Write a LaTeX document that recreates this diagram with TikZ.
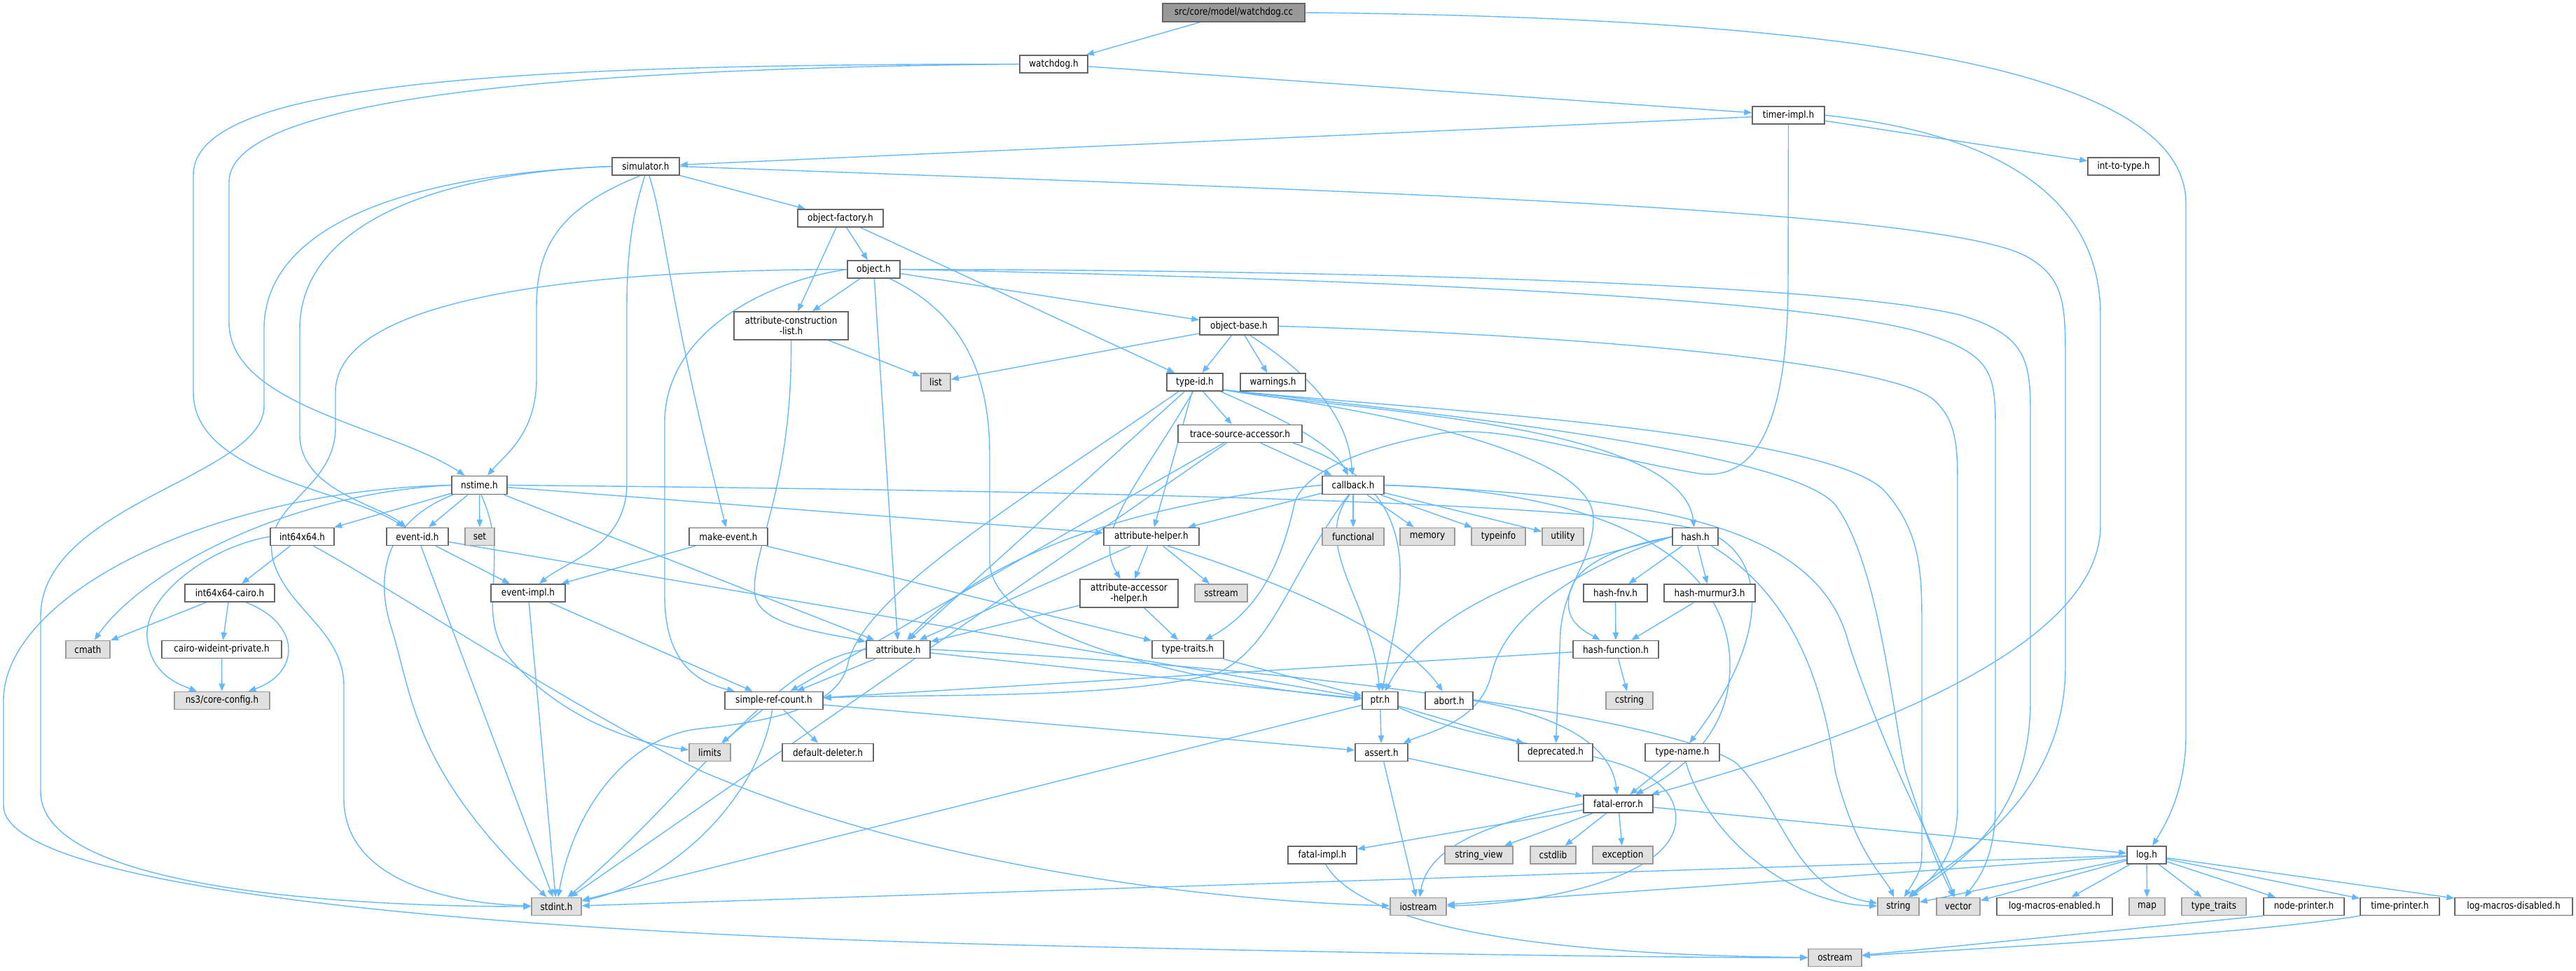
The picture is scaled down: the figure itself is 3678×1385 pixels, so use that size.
\documentclass[tikz,border=0pt]{standalone}
\usepackage{fontspec}
\setmainfont{DejaVu Sans}[FakeStretch=0.86]
\usetikzlibrary{arrows.meta}
\definecolor{edgec}{HTML}{63B8FF}
\definecolor{ndb}{HTML}{666666}
\definecolor{grb}{HTML}{999999}
\definecolor{grf}{HTML}{E0E0E0}
\definecolor{rootf}{HTML}{999999}
\newcommand\lbl{\fontsize{14}{15.5}\selectfont}
\pgfdeclarelayer{bg}
\pgfsetlayers{bg,main}
\tikzset{
  nd/.style={draw=ndb, fill=white, line width=1.6pt, inner sep=0pt, font=\lbl, minimum height=25pt, align=center},
  gr/.style={nd, draw=grb, fill=grf},
  e/.style={draw=edgec, line width=1.4pt, -{Triangle[length=11pt,width=8.5pt]}}
}
\begin{document}
\begin{tikzpicture}[x=1pt,y=-1pt]
\useasboundingbox (0,0) rectangle (3678,1385);
% nodes
\node[nd, fill=rootf, minimum width=203pt, minimum height=26pt] (wcc) at (1761.5,18) {src/core/model/watchdog.cc};
\node[nd, minimum width=97pt] (wdh) at (1504.5,91.5) {watchdog.h};
\node[nd, minimum width=103pt] (timer) at (2553.5,164.5) {timer-impl.h};
\node[nd, minimum width=96pt] (sim) at (922,237.5) {simulator.h};
\node[nd, minimum width=102pt] (itt) at (3032,237.5) {int-to-type.h};
\node[nd, minimum width=122pt] (ofac) at (1200,311.5) {object-factory.h};
\node[nd, minimum width=75pt] (obj) at (1247.5,384.5) {object.h};
\node[nd, minimum width=163pt, minimum height=40pt] (acl) at (1129.5,465) {attribute-construction\\-list.h};
\node[nd, minimum width=112pt] (obase) at (1769,465.5) {object-base.h};
\node[gr, minimum width=42pt] (list) at (1336,545.5) {list};
\node[nd, minimum width=80pt] (tid) at (1706,545.5) {type-id.h};
\node[nd, minimum width=93pt] (warn) at (1817.5,545.5) {warnings.h};
\node[nd, minimum width=177pt] (tsa) at (1770.5,619) {trace-source-accessor.h};
\node[nd, minimum width=79pt, minimum height=26pt] (nstime) at (684.5,692.5) {nstime.h};
\node[nd, minimum width=88pt, minimum height=26pt] (cb) at (1932,692.5) {callback.h};
\node[nd, minimum width=91pt] (i64) at (431.5,766) {int64x64.h};
\node[nd, minimum width=88pt] (eid) at (596,766) {event-id.h};
\node[gr, minimum width=42pt] (set) at (685,766) {set};
\node[nd, minimum width=112pt] (mke) at (1040,766) {make-event.h};
\node[nd, minimum width=136pt] (ahelp) at (1644,766) {attribute-helper.h};
\node[gr, minimum width=88pt] (functional) at (1932,766) {functional};
\node[gr, minimum width=78pt] (memory) at (2038,766) {memory};
\node[gr, minimum width=77pt] (typeinfo) at (2139.5,766) {typeinfo};
\node[gr, minimum width=59pt] (utility) at (2231.5,766) {utility};
\node[nd, minimum width=65pt] (hash) at (2420.5,766) {hash.h};
\node[nd, minimum width=128pt] (cairo) at (328,846.5) {int64x64-cairo.h};
\node[nd, minimum width=106pt] (eimpl) at (754,846.5) {event-impl.h};
\node[nd, minimum width=140pt, minimum height=40pt] (aacc) at (1612,847) {attribute-accessor\\-helper.h};
\node[gr, minimum width=75pt] (sstream) at (1743.5,846.5) {sstream};
\node[nd, minimum width=91pt] (hfnv) at (2306.5,846.5) {hash-fnv.h};
\node[nd, minimum width=130pt] (hmur) at (2441,846.5) {hash-murmur3.h};
\node[gr, minimum width=63pt] (cmath) at (125.5,927) {cmath};
\node[nd, minimum width=171pt] (cwide) at (316.5,927) {cairo-wideint-private.h};
\node[nd, minimum width=91pt] (attr) at (1282.5,927) {attribute.h};
\node[nd, minimum width=102pt] (ttraits) at (1696,927) {type-traits.h};
\node[nd, minimum width=122pt] (hfun) at (2307,927) {hash-function.h};
\node[gr, minimum width=136pt] (cconf) at (317,1000) {ns3/core-config.h};
\node[nd, minimum width=140pt] (src) at (1105,1000) {simple-ref-count.h};
\node[nd, minimum width=51pt] (ptr) at (1970.5,1000) {ptr.h};
\node[nd, minimum width=68pt] (abort) at (2069,1000) {abort.h};
\node[gr, minimum width=67pt] (cstring) at (2326.5,1000) {cstring};
\node[gr, minimum width=59pt] (limits) at (1013.5,1074) {limits};
\node[nd, minimum width=130pt] (ddel) at (1182,1074) {default-deleter.h};
\node[nd, minimum width=75pt] (assert) at (1972.5,1074) {assert.h};
\node[nd, minimum width=106pt] (depr) at (2221,1074) {deprecated.h};
\node[nd, minimum width=106pt] (tname) at (2402,1074) {type-name.h};
\node[nd, minimum width=99pt] (ferr) at (2310.5,1147.5) {fatal-error.h};
\node[nd, minimum width=98pt] (fimpl) at (1888,1220.5) {fatal-impl.h};
\node[gr, minimum width=97pt] (sview) at (2111.5,1220.5) {string\_view};
\node[gr, minimum width=65pt] (cstdlib) at (2217.5,1220.5) {cstdlib};
\node[gr, minimum width=86pt] (exception) at (2317,1220.5) {exception};
\node[nd, minimum width=56pt] (logh) at (3065,1220.5) {log.h};
\node[gr, minimum width=71pt] (stdint) at (794.5,1294) {stdint.h};
\node[gr, minimum width=80pt] (iostream) at (2025,1294) {iostream};
\node[gr, minimum width=59pt] (string) at (2710.5,1294) {string};
\node[gr, minimum width=62pt] (vector) at (2796,1294) {vector};
\node[nd, minimum width=165pt] (lme) at (2933.5,1294) {log-macros-enabled.h};
\node[gr, minimum width=51pt] (map) at (3065.5,1294) {map};
\node[gr, minimum width=92pt] (ttr) at (3161,1294) {type\_traits};
\node[nd, minimum width=115pt] (nprint) at (3289.5,1294) {node-printer.h};
\node[nd, minimum width=113pt] (tprint) at (3426.5,1294) {time-printer.h};
\node[nd, minimum width=168pt] (lmd) at (3589,1294) {log-macros-disabled.h};
\node[gr, minimum width=76pt] (ostream) at (2620,1367) {ostream};

\begin{pgfonlayer}{bg}
% top
\draw[e] (wcc) -- (wdh);
\draw[e] (wcc.east) .. controls (2600,25) and (3121,90) .. (3121,290) -- (3121,1050) .. controls (3121,1130) and (3090,1180) .. (logh);
\draw[e] (wdh) -- (timer);
\draw[e] (wdh.west) .. controls (800,98) and (327,140) .. (327,260) -- (327,460) .. controls (327,580) and (560,610) .. (nstime);
\draw[e] (wdh.west) .. controls (700,92) and (276,120) .. (276,250) -- (276,560) .. controls (276,680) and (500,700) .. (eid);
% timer-impl
\draw[e] (timer) -- (sim);
\draw[e] (timer) -- (itt);
\draw[e] (timer.east) .. controls (2850,190) and (2999,280) .. (2999,450) -- (2999,750) .. controls (2999,950) and (2550,1080) .. (ferr);
\draw[e] (timer.south) -- (2553,400) .. controls (2553,620) and (2500,690) .. (2420,675) .. controls (2250,645) and (2130,600) .. (2040,622) .. controls (1900,650) and (1855,690) .. (1848,720) .. controls (1830,800) and (1800,870) .. (ttraits);
% simulator
\draw[e] (sim) -- (ofac);
\draw[e] (sim.west) .. controls (600,248) and (428,330) .. (428,470) -- (428,620) .. controls (428,700) and (540,720) .. (eid);
\draw[e] (sim.west) .. controls (560,250) and (377,330) .. (377,470) -- (377,580) .. controls (377,680) and (58,720) .. (58,880) -- (58,1130) .. controls (58,1270) and (500,1294) .. (stdint);
\draw[e] (sim.-120) .. controls (790,300) and (766,360) .. (766,440) -- (766,540) .. controls (766,620) and (720,650) .. (nstime);
\draw[e] (sim.-95) .. controls (905,300) and (895,350) .. (895,440) -- (895,690) .. controls (895,780) and (810,800) .. (eimpl);
\draw[e] (sim.-70) .. controls (950,320) and (952,420) .. (mke);
\draw[e] (sim.east) .. controls (2000,275) and (2800,300) .. (2900,370) .. controls (2949,400) and (2949,440) .. (2949,520) -- (2949,950) .. controls (2949,1150) and (2780,1230) .. (string);
% object-factory
\draw[e] (ofac) -- (acl);
\draw[e] (ofac) -- (obj);
\draw[e] (ofac) -- (tid);
% object
\draw[e] (obj) -- (acl);
\draw[e] (obj) -- (obase);
\draw[e] (obj) -- (attr);
\draw[e] (obj.-30) .. controls (1380,450) and (1413,540) .. (1413,650) -- (1413,800) .. controls (1413,920) and (1750,980) .. (ptr);
\draw[e] (obj.west) .. controls (1100,400) and (952,470) .. (949,600) -- (949,850) .. controls (949,950) and (1000,975) .. (src);
\draw[e] (obj.west) .. controls (850,385) and (479,420) .. (479,560) -- (479,610) .. controls (479,700) and (370,720) .. (390,800) .. controls (410,870) and (491,900) .. (491,980) -- (491,1140) .. controls (491,1260) and (650,1290) .. (stdint);
\draw[e] (obj.east) .. controls (1800,385) and (2600,400) .. (2800,450) .. controls (2899,480) and (2899,520) .. (2899,600) -- (2899,1000) .. controls (2899,1180) and (2780,1240) .. (string);
\draw[e] (obj.east) .. controls (1800,395) and (2600,420) .. (2760,480) .. controls (2849,510) and (2849,540) .. (2849,620) -- (2849,1150) .. controls (2849,1230) and (2820,1260) .. (vector);
% attribute-construction-list
\draw[e] (acl) -- (list);
\draw[e] (acl.south) .. controls (1132,700) and (1070,790) .. (1078,850) .. controls (1085,895) and (1190,905) .. (attr);
% object-base
\draw[e] (obase) -- (list);
\draw[e] (obase) -- (tid);
\draw[e] (obase) -- (warn);
\draw[e] (obase.-40) .. controls (1880,540) and (1925,600) .. (cb);
\draw[e] (obase.east) .. controls (2300,480) and (2700,520) .. (2760,570) .. controls (2795,600) and (2795,640) .. (2795,700) -- (2795,1150) .. controls (2795,1230) and (2750,1260) .. (string);
% type-id
\draw[e] (tid) -- (tsa);
\draw[e] (tid.-20) .. controls (1860,610) and (1905,640) .. (cb);
\draw[e] (tid) -- (ahelp);
\draw[e] (tid.-100) .. controls (1620,700) and (1560,760) .. (aacc);
\draw[e] (tid) -- (attr);
\draw[e] (tid.-150) .. controls (1450,720) and (1230,850) .. (1210,950) .. controls (1195,1010) and (1100,1030) .. (1000,1040) .. controls (900,1050) and (820,1150) .. (stdint);
\draw[e] (tid.-15) .. controls (1900,585) and (2400,600) .. (hash);
\draw[e] (tid.-15) .. controls (1950,580) and (2600,610) .. (2690,700) .. controls (2744,760) and (2744,820) .. (2744,900) -- (2744,1200) .. controls (2744,1240) .. (string);
\draw[e] (tid.-15) .. controls (2000,585) and (2550,640) .. (2620,720) .. controls (2680,800) and (2700,1000) .. (2720,1100) .. controls (2760,1220) .. (vector);
\draw[e] (tid.-15) .. controls (2000,590) and (2275,650) .. (2275,740) .. controls (2275,800) and (2235,830) .. (2228,900) -- (depr);
% trace-source-accessor
\draw[e] (tsa) -- (cb);
\draw[e] (tsa.-10) .. controls (2050,700) and (2000,850) .. (ptr);
\draw[e] (tsa) -- (src);
\draw[e] (tsa) -- (stdint);
% callback
\draw[e] (cb) -- (functional);
\draw[e] (cb) -- (memory);
\draw[e] (cb) -- (typeinfo);
\draw[e] (cb) -- (utility);
\draw[e] (cb) -- (ahelp);
\draw[e] (cb.west) .. controls (1600,720) and (1400,800) .. (attr);
\draw[e] (cb.-110) .. controls (1870,780) and (1960,860) .. (ptr);
\draw[e] (cb.-115) .. controls (1840,820) and (1820,920) .. (1740,960) .. controls (1600,1000) and (1300,990) .. (src);
\draw[e] (cb.east) .. controls (2300,700) and (2470,800) .. (2470,950) .. controls (2470,1060) and (2380,1110) .. (ferr);
\draw[e] (cb.east) .. controls (2400,710) and (2600,760) .. (2640,920) .. controls (2700,1100) and (2760,1200) .. (vector);
% attribute-helper
\draw[e] (ahelp) -- (aacc);
\draw[e] (ahelp) -- (sstream);
\draw[e] (ahelp) -- (attr);
\draw[e] (ahelp.-30) .. controls (1800,820) and (2000,900) .. (abort);
\draw[e] (aacc) -- (attr);
\draw[e] (aacc) -- (ttraits);
% attribute
\draw[e] (attr) -- (ptr);
\draw[e] (attr) -- (src);
\draw[e] (attr.east) .. controls (1900,955) and (2400,1030) .. (2480,1090) .. controls (2550,1160) and (2560,1270) .. (string);
\draw[e] (attr.west) .. controls (1100,945) and (1000,1120) .. (stdint);
\draw[e] (ttraits) -- (ptr);
% simple-ref-count
\draw[e] (src) -- (assert);
\draw[e] (src) -- (limits);
\draw[e] (src) -- (ddel);
\draw[e] (src.-100) .. controls (1080,1150) and (950,1260) .. (stdint);
% ptr
\draw[e] (ptr) -- (assert);
\draw[e] (ptr) -- (depr);
\draw[e] (ptr.-20) .. controls (2150,1080) and (2360,1060) .. (2390,1150) .. controls (2420,1250) and (2200,1290) .. (iostream);
\draw[e] (ptr) -- (stdint);
\draw[e] (assert) -- (ferr);
\draw[e] (assert) -- (iostream);
% fatal-error
\draw[e] (ferr) -- (fimpl);
\draw[e] (ferr) -- (sview);
\draw[e] (ferr) -- (cstdlib);
\draw[e] (ferr) -- (exception);
\draw[e] (ferr.west) .. controls (2150,1170) and (2040,1200) .. (iostream);
\draw[e] (ferr) -- (logh);
\draw[e] (fimpl.-70) .. controls (1930,1300) and (2100,1362) .. (ostream);
\draw[e] (abort.east) .. controls (2220,1020) and (2300,1060) .. (ferr);
% hash
\draw[e] (hash) -- (hfnv);
\draw[e] (hash) -- (hmur);
\draw[e] (hash.west) .. controls (2260,790) and (2235,830) .. (2240,870) .. controls (2245,895) and (2270,905) .. (hfun);
\draw[e] (hash.west) .. controls (2250,810) and (2150,880) .. (2130,960) .. controls (2115,1030) and (2040,1045) .. (assert);
\draw[e] (hash.west) .. controls (2250,800) and (2050,850) .. (ptr);
\draw[e] (hash.-30) .. controls (2545,840) and (2600,950) .. (2620,1100) .. controls (2650,1220) and (2690,1250) .. (string);
\draw[e] (hfnv) -- (hfun);
\draw[e] (hmur) -- (hfun);
\draw[e] (hfun) -- (cstring);
\draw[e] (hfun) -- (src);
\draw[e] (tname) -- (ferr);
\draw[e] (tname.-70) .. controls (2440,1200) and (2560,1290) .. (string);
% log
\draw[e] (logh) -- (lme);
\draw[e] (logh) -- (map);
\draw[e] (logh) -- (ttr);
\draw[e] (logh) -- (nprint);
\draw[e] (logh) -- (tprint);
\draw[e] (logh) -- (lmd);
\draw[e] (logh) -- (stdint);
\draw[e] (logh) -- (iostream);
\draw[e] (logh) -- (string);
\draw[e] (logh) -- (vector);
\draw[e] (nprint.south west) .. controls (3100,1320) and (2800,1350) .. (ostream);
\draw[e] (tprint.south west) .. controls (3200,1335) and (2800,1355) .. (ostream);
% nstime
\draw[e] (nstime) -- (attr);
\draw[e] (nstime) -- (ahelp);
\draw[e] (nstime) -- (eid);
\draw[e] (nstime) -- (set);
\draw[e] (nstime) -- (i64);
\draw[e] (nstime.east) .. controls (1500,700) and (2300,715) .. (2440,760) .. controls (2530,800) and (2520,920) .. (tname);
\draw[e] (nstime.west) .. controls (400,705) and (200,820) .. (cmath);
\draw[e] (nstime.west) .. controls (300,700) and (5,850) .. (5,1000) -- (5,1150) .. controls (5,1260) and (600,1330) .. (1500,1350) .. controls (2000,1362) and (2400,1367) .. (ostream);
\draw[e] (nstime.-80) .. controls (730,800) and (680,860) .. (720,930) .. controls (790,1020) and (900,1060) .. (limits);
\draw[e] (nstime.-160) .. controls (560,740) and (530,810) .. (560,900) .. controls (590,1000) and (592,1100) .. (stdint);
% event-id / event-impl / make-event
\draw[e] (eid) -- (eimpl);
\draw[e] (eid) -- (ptr);
\draw[e] (eid) -- (stdint);
\draw[e] (eimpl) -- (src);
\draw[e] (eimpl) -- (stdint);
\draw[e] (mke) -- (eimpl);
\draw[e] (mke) -- (ttraits);
% int64x64
\draw[e] (i64) -- (cairo);
\draw[e] (i64.west) .. controls (300,780) and (205,850) .. (210,910) .. controls (215,960) and (250,975) .. (cconf);
\draw[e] (i64.-40) .. controls (560,840) and (800,1000) .. (1000,1100) .. controls (1300,1230) and (1700,1285) .. (iostream);
\draw[e] (cairo) -- (cmath);
\draw[e] (cairo) -- (cwide);
\draw[e] (cairo.-30) .. controls (430,890) and (430,960) .. (cconf);
\draw[e] (cwide) -- (cconf);
\end{pgfonlayer}
\end{tikzpicture}
\end{document}
